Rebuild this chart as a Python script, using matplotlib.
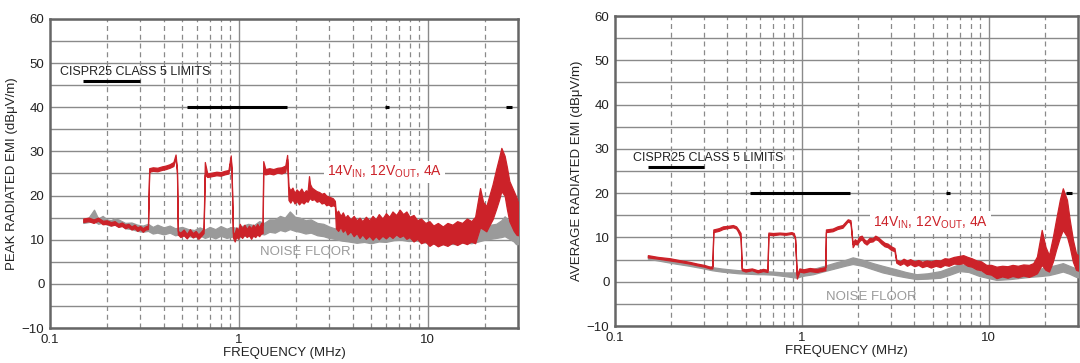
import numpy as np
import matplotlib
matplotlib.use("Agg")
import matplotlib.pyplot as plt

plt.rcParams['font.family'] = ['Liberation Sans', 'DejaVu Sans']
plt.rcParams['mathtext.default'] = 'regular'

RED = '#cc2229'
GRAY = '#9a9a9a'
GRID = '#8a8a8a'
SPINE = '#666666'

# ---------------- peak (left) ----------------
peak_f = [0.15, 0.16, 0.17, 0.18, 0.19, 0.20, 0.21, 0.22, 0.23, 0.24, 0.25, 0.26, 0.27, 0.28, 0.29, 0.30, 0.31, 0.32, 0.33,
          0.335, 0.35, 0.37, 0.39, 0.41, 0.43, 0.45, 0.462, 0.47,
          0.475, 0.49, 0.51, 0.53, 0.55, 0.57, 0.59, 0.61, 0.63, 0.65,
          0.66, 0.68, 0.72, 0.76, 0.80, 0.84, 0.88, 0.905, 0.915,
          0.93, 0.95, 0.97, 0.99, 1.01, 1.04, 1.07, 1.10, 1.13, 1.16, 1.19, 1.22, 1.25, 1.28, 1.31, 1.335,
          1.345, 1.38, 1.45, 1.52, 1.60, 1.68, 1.76, 1.80,
          1.83, 1.87, 1.92, 1.97, 2.02, 2.08, 2.14, 2.20, 2.26, 2.31, 2.35, 2.38, 2.43, 2.50, 2.58, 2.66,
          2.74, 2.82, 2.90, 2.98, 3.06, 3.14, 3.22,
          3.26, 3.35, 3.45, 3.55, 3.65, 3.75, 3.9, 4.05, 4.2, 4.35, 4.5, 4.7, 4.9, 5.1, 5.3, 5.5, 5.75, 6.0,
          6.25, 6.5, 6.8, 7.1, 7.4, 7.7, 8.0, 8.4, 8.8, 9.2, 9.7, 10.2, 10.7, 11.3, 12.0, 12.7, 13.5, 14.3,
          15.2, 16.1, 17.0, 17.8,
          18.9, 19.6, 20.4, 21.0, 22.0, 23.0, 23.8, 24.5, 25.5, 26.2, 27.0, 28.5, 29.5, 30.0]
peak_lo = [14.0, 14.2, 13.8, 14.3, 13.5, 13.6, 13.2, 13.4, 12.9, 13.1, 12.6, 12.9, 12.3, 12.6, 12.0, 12.4, 11.8, 12.3, 12.4,
           25.4, 25.6, 25.5, 25.8, 26.0, 26.3, 26.7, 28.6, 25.0,
           11.2, 10.6, 11.0, 10.3, 11.2, 10.5, 10.9, 10.2, 10.8, 11.5,
           24.8, 24.2, 24.4, 24.6, 24.5, 24.8, 25.0, 28.4, 25.0,
           10.5, 9.6, 10.8, 10.2, 11.0, 10.4, 11.2, 10.6, 11.0, 10.2, 11.0, 10.6, 11.2, 10.8, 11.4, 11.5,
           25.0, 24.8, 25.0, 24.8, 25.2, 25.0, 25.4, 28.3,
           19.0, 18.4, 19.2, 18.2, 18.8, 18.0, 18.6, 18.2, 18.8, 18.6, 19.2, 19.4, 19.0, 19.2, 18.6, 18.8,
           18.2, 18.4, 17.8, 18.0, 17.6, 17.8, 17.6,
           12.6, 12.0, 12.8, 11.8, 12.4, 11.2, 11.9, 10.8, 11.5, 10.4, 11.2, 10.2, 10.9, 10.0, 10.8, 10.1, 10.9, 10.3,
           11.0, 10.4, 11.2, 10.6, 11.0, 10.2, 10.6, 9.6, 10.2, 9.2, 9.6, 8.6, 9.2, 8.5, 9.0, 8.6, 9.3, 8.8,
           9.4, 9.0, 9.6, 9.2,
           12.8, 12.4, 11.9, 13.0, 14.6, 17.0, 19.0, 21.0, 20.0, 17.0, 14.2, 12.0, 11.1, 11.0]
peak_hi = [14.8, 15.0, 14.6, 15.0, 14.3, 14.4, 14.0, 14.2, 13.6, 13.9, 13.4, 13.6, 13.0, 13.4, 12.8, 13.1, 12.6, 13.0, 13.2,
           26.2, 26.4, 26.3, 26.6, 26.8, 27.1, 27.6, 29.3, 26.0,
           12.0, 11.6, 12.3, 11.3, 12.4, 11.5, 12.0, 11.2, 11.8, 12.5,
           27.6, 25.0, 25.2, 25.4, 25.3, 25.6, 25.8, 29.1, 25.8,
           11.5, 11.6, 12.8, 12.0, 13.6, 12.6, 13.4, 12.4, 13.2, 12.6, 13.4, 12.8, 13.6, 12.8, 13.8, 13.4,
           27.8, 26.0, 26.2, 26.0, 26.3, 26.4, 26.8, 29.2,
           22.0, 21.2, 21.8, 20.6, 21.4, 20.8, 21.6, 20.6, 21.2, 21.0, 24.4, 22.6, 21.8, 21.4, 21.0, 20.8,
           20.4, 20.6, 20.0, 19.8, 19.6, 19.4, 18.8,
           16.0, 16.6, 15.4, 16.2, 15.0, 15.6, 14.6, 15.4, 14.4, 15.0, 14.2, 15.2, 14.4, 15.4, 14.6, 15.8, 14.8, 16.0,
           15.2, 16.4, 15.6, 16.8, 15.8, 16.4, 15.2, 15.6, 14.4, 14.8, 13.8, 14.2, 13.2, 13.8, 13.0, 13.8, 13.4, 14.2,
           13.8, 14.8, 14.2, 15.2,
           21.7, 18.6, 17.6, 19.5, 22.5, 26.0, 28.5, 30.8, 29.0, 26.5, 23.3, 21.0, 19.5, 18.5]

peak_nf_f = [0.15, 0.16, 0.171, 0.18, 0.19, 0.20, 0.21, 0.22, 0.23, 0.24, 0.25, 0.27, 0.29, 0.31, 0.33, 0.35,
             0.37, 0.40, 0.43, 0.46, 0.50, 0.54, 0.58, 0.62, 0.66, 0.70, 0.75, 0.80, 0.86, 0.92, 0.98, 1.05,
             1.12, 1.20, 1.28, 1.36, 1.45, 1.55, 1.65, 1.75, 1.86, 1.98, 2.1, 2.25, 2.4, 2.6, 2.8, 3.0, 3.2,
             3.5, 3.8, 4.2, 4.6, 5.0, 5.5, 6.0, 6.6, 7.2, 7.9, 8.7, 9.5, 10.5, 11.5, 12.5, 14, 15.5, 17,
             18.5, 20, 21.5, 23, 24.5, 25.5, 26.5, 27.5, 28.5, 29.3, 30]
peak_nf_lo = [13.8, 14.0, 14.2, 13.6, 13.9, 13.4, 13.2, 13.6, 13.0, 13.3, 12.6, 12.4, 12.0, 11.8, 12.0, 11.4,
              11.6, 11.2, 11.6, 11.0, 11.3, 10.8, 10.6, 11.0, 10.4, 10.8, 10.3, 10.9, 10.4, 10.7, 10.4, 10.8,
              11.0, 10.8, 11.4, 11.2, 11.8, 11.6, 12.2, 11.9, 12.4, 12.0, 11.8, 11.4, 11.6, 11.0, 10.8, 10.4, 10.2,
              9.8, 9.6, 9.3, 9.5, 9.2, 9.6, 9.5, 9.9, 10.0, 9.7, 9.8, 9.4, 9.2, 8.9, 9.1, 9.0, 9.4, 9.2,
              9.6, 10.0, 10.2, 10.4, 10.6, 10.8, 10.4, 10.0, 9.6, 9.0, 9.0]
peak_nf_hi = [14.6, 15.0, 16.8, 14.8, 15.4, 14.6, 14.4, 14.9, 14.6, 14.2, 13.8, 13.9, 13.4, 13.2, 13.6, 12.9,
              13.4, 12.8, 13.2, 12.6, 12.9, 12.4, 12.2, 12.8, 12.3, 12.9, 12.4, 13.1, 12.5, 12.9, 12.6, 13.2,
              13.6, 13.3, 14.2, 13.8, 14.6, 14.6, 15.4, 15.0, 16.4, 15.2, 15.0, 14.4, 14.6, 13.8, 13.6, 13.0, 12.6,
              12.2, 11.8, 11.6, 11.8, 11.7, 12.0, 12.1, 12.4, 12.6, 12.2, 12.3, 11.9, 11.8, 11.5, 11.7, 11.8, 12.0, 12.0,
              12.6, 13.0, 13.4, 13.6, 14.4, 15.3, 14.6, 14.0, 13.0, 12.4, 12.0]

# ---------------- average (right) ----------------
avg_f = [0.15, 0.17, 0.197, 0.22, 0.25, 0.275, 0.30, 0.322, 0.332,
         0.336, 0.36, 0.378, 0.40, 0.428, 0.445, 0.454, 0.47,
         0.477, 0.50, 0.54, 0.58, 0.62, 0.655,
         0.662, 0.70, 0.76, 0.82, 0.88, 0.905, 0.92,
         0.94, 0.97, 1.02, 1.10, 1.20, 1.30, 1.335,
         1.345, 1.46, 1.55, 1.65, 1.76, 1.82,
         1.87, 1.92, 1.97, 2.03, 2.09, 2.15, 2.22, 2.30, 2.39, 2.47, 2.55, 2.66, 2.77, 2.88, 3.00, 3.13,
         3.20, 3.35, 3.50, 3.65, 3.80, 4.0, 4.2, 4.4, 4.65, 4.9, 5.2, 5.5, 5.8, 6.1, 6.5, 6.9, 7.3, 7.7,
         8.1, 8.6, 9.1, 9.7, 10.3, 11.0, 11.8, 12.6, 13.4, 14.3, 15.3, 16.4, 17.3, 18.1,
         19.2, 20.1, 21.0, 22.0, 22.9, 24.0, 24.9, 26.2, 27.1, 28.2, 29.3, 30.0]
avg_lo = [5.5, 5.2, 4.8, 4.5, 4.1, 3.7, 3.4, 3.0, 3.0,
          11.2, 11.5, 11.9, 12.1, 12.3, 12.0, 11.4, 10.0,
          2.6, 2.3, 2.6, 2.1, 2.4, 2.2,
          10.6, 10.5, 10.7, 10.6, 10.8, 10.5, 9.5,
          0.7, 2.3, 2.1, 2.4, 2.2, 2.5, 2.6,
          11.2, 11.4, 11.9, 12.2, 13.6, 13.3,
          7.8, 8.6, 8.4, 9.2, 9.6, 8.8, 8.4, 9.0, 9.1, 9.6, 9.4, 8.6, 8.0, 7.8, 7.2, 6.9,
          4.3, 3.8, 4.2, 3.6, 4.0, 3.5, 3.8, 3.3, 3.6, 3.2, 3.6, 3.3, 3.8, 3.6, 4.1, 4.0, 4.2, 3.6,
          3.4, 2.8, 2.6, 1.8, 1.6, 0.8, 1.2, 0.9, 1.3, 1.0, 1.4, 1.1, 1.5, 1.9,
          3.8, 2.7, 2.3, 4.5, 7.2, 10.0, 11.7, 10.2, 7.9, 4.5, 2.7, 2.5]
avg_hi = [6.0, 5.6, 5.3, 4.9, 4.5, 4.1, 3.8, 3.4, 3.5,
          11.8, 12.1, 12.5, 12.6, 12.8, 12.5, 12.0, 11.0,
          3.0, 2.8, 3.0, 2.6, 2.9, 2.7,
          11.1, 11.0, 11.1, 11.0, 11.2, 11.0, 10.0,
          1.5, 3.0, 2.8, 3.1, 2.9, 3.2, 3.3,
          11.8, 12.0, 12.5, 12.8, 14.1, 13.9,
          8.6, 9.6, 9.2, 10.2, 10.4, 9.6, 9.2, 9.9, 9.8, 10.4, 10.1, 9.4, 8.8, 8.6, 8.0, 7.6,
          5.0, 4.6, 5.2, 4.8, 5.1, 4.6, 4.9, 4.5, 4.8, 4.6, 4.9, 4.8, 5.3, 5.2, 5.6, 5.8, 6.0, 5.6,
          5.3, 4.8, 4.6, 3.8, 3.8, 3.4, 3.6, 3.5, 3.8, 3.6, 3.9, 3.8, 4.2, 5.7,
          11.7, 7.9, 6.0, 10.0, 14.0, 18.5, 21.1, 18.5, 14.0, 9.5, 6.4, 6.0]

avg_nf_f = [0.15, 0.18, 0.21, 0.25, 0.29, 0.33, 0.37, 0.41, 0.46, 0.52, 0.58, 0.62, 0.70, 0.80,
            0.94, 1.0, 1.15, 1.32, 1.50, 1.70, 1.87, 2.10, 2.40, 2.70, 3.20, 3.60, 4.10, 4.70,
            5.50, 6.20, 7.00, 7.80, 8.90, 10.0, 11.0, 13.0, 15.0, 16.6, 19.0, 21.0, 23.0, 24.9,
            27.0, 29.3, 30.0]
avg_nf_lo = [5.2, 4.6, 4.1, 3.6, 3.1, 2.6, 2.3, 2.1, 1.9, 1.8, 1.7, 1.7, 1.6, 1.3, 0.9, 1.3,
             1.7, 2.4, 3.0, 3.6, 4.0, 3.6, 2.8, 2.1, 1.4, 1.0, 0.6, 0.7, 0.9, 1.6, 2.4, 2.2, 1.3,
             0.8, 0.4, 0.6, 0.9, 1.1, 1.3, 1.5, 1.9, 2.3, 1.8, 1.1, 1.0]
avg_nf_hi = [5.8, 5.2, 4.7, 4.2, 3.7, 3.3, 3.0, 2.8, 2.6, 2.5, 2.4, 2.4, 2.3, 2.1, 2.1, 2.4,
             2.9, 3.6, 4.3, 4.9, 5.5, 5.0, 4.2, 3.6, 2.8, 2.2, 1.7, 1.9, 2.4, 3.2, 4.0, 3.6, 2.4,
             2.1, 1.9, 2.2, 2.5, 2.7, 3.0, 3.4, 3.8, 4.2, 3.6, 3.0, 2.9]

# CISPR25 class 5 limit segments: (f_start, f_stop)
lim_bands = [(0.15, 0.30), (0.53, 1.8), (5.9, 6.2), (26.0, 28.0)]
peak_lim = [46, 40, 40, 40]
avg_lim = [26, 20, 20, 20]

yticks = list(range(-10, 61, 10))
xticks = [0.1, 1, 10]
xticklabels = ['0.1', '1', '10']


def setup_axes(ax, ylabel):
    ax.set_xscale('log')
    ax.set_xlim(0.1, 30)
    ax.set_ylim(-10, 60)
    for y in range(-10, 61, 5):
        ax.axhline(y, color=GRID, lw=1.0, zorder=1)
    for dec in [0.1, 1, 10]:
        for m in range(2, 10):
            f = dec * m
            if f < 30:
                ax.axvline(f, color=GRID, lw=0.9, ls=(0, (4, 3)), zorder=1)
    ax.axvline(1, color=GRID, lw=1.0, zorder=1)
    ax.axvline(10, color=GRID, lw=1.0, zorder=1)
    ax.set_xticks(xticks)
    ax.set_xticklabels(xticklabels)
    ax.xaxis.set_minor_locator(matplotlib.ticker.NullLocator())
    ax.set_yticks(yticks)
    ax.set_yticklabels(['\u221210' if t < 0 else str(t) for t in yticks])
    ax.tick_params(length=0, labelsize=9.5, colors='#222222', pad=4)
    for s in ax.spines.values():
        s.set_color(SPINE)
        s.set_linewidth(1.8)
    ax.set_xlabel('FREQUENCY (MHz)', fontsize=9.5, color='#222222', labelpad=1)
    ax.set_ylabel(ylabel, fontsize=9.5, color='#222222', labelpad=3)


def draw_trace(ax, f, lo, hi, color, z):
    ax.fill_between(f, lo, hi, color=color, edgecolor=color, lw=0.9, zorder=z)


fig = plt.figure(figsize=(10.8, 3.63), dpi=100)
ax1 = fig.add_axes([0.0463, 0.0964, 0.4333, 0.8513])
ax2 = fig.add_axes([0.5694, 0.1019, 0.4287, 0.8540])

# peak panel
setup_axes(ax1, 'PEAK RADIATED EMI (dB\u03bcV/m)')
draw_trace(ax1, peak_nf_f, peak_nf_lo, peak_nf_hi, GRAY, 3)
draw_trace(ax1, peak_f, peak_lo, peak_hi, RED, 4)
for (f0, f1), lv in zip(lim_bands, peak_lim):
    ax1.plot([f0, f1], [lv, lv], color='black', lw=2.2, solid_capstyle='butt', zorder=5)
ax1.text(0.113, 47.9, 'CISPR25 CLASS 5 LIMITS', fontsize=9, color='#222222', va='center', zorder=6)
ax1.text(2.92, 25.4, r'14V$_{IN}$, 12V$_{OUT}$, 4A', fontsize=10, color=RED, va='center',
         zorder=6, bbox=dict(facecolor='white', edgecolor='none', pad=2))
ax1.text(1.29, 7.3, 'NOISE FLOOR', fontsize=9.5, color=GRAY, va='center', zorder=6)

# average panel
setup_axes(ax2, 'AVERAGE RADIATED EMI (dB\u03bcV/m)')
draw_trace(ax2, avg_nf_f, avg_nf_lo, avg_nf_hi, GRAY, 3)
draw_trace(ax2, avg_f, avg_lo, avg_hi, RED, 4)
for (f0, f1), lv in zip(lim_bands, avg_lim):
    ax2.plot([f0, f1], [lv, lv], color='black', lw=2.2, solid_capstyle='butt', zorder=5)
ax2.text(0.125, 28.0, 'CISPR25 CLASS 5 LIMITS', fontsize=9, color='#222222', va='center', zorder=6)
ax2.text(2.40, 13.4, r'14V$_{IN}$, 12V$_{OUT}$, 4A', fontsize=10, color=RED, va='center',
         zorder=6, bbox=dict(facecolor='white', edgecolor='none', pad=2))
ax2.text(1.34, -3.4, 'NOISE FLOOR', fontsize=9.5, color=GRAY, va='center', zorder=6)

fig.savefig('out.png', dpi=100)
